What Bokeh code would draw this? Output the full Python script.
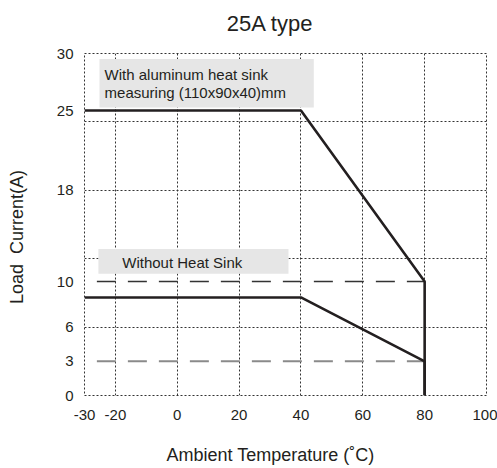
from bokeh.plotting import figure
from bokeh.models import Range1d, FixedTicker, Label, BoxAnnotation, LinearAxis
from bokeh.embed import file_html
from bokeh.resources import INLINE

# ---- data ----
temp = [-30, 40, 80, 80]
with_sink = [25, 25, 10, 0]
without_sink = [8.6, 8.6, 3, 0]
ref_temp = [-26, 80]
ref_with = [10, 10]
ref_without = [3, 3]
x_ticks = [-30, -20, 0, 20, 40, 60, 80, 100]
x_tick_labels = {-30: "-30", -20: "-20"}
y_ticks = [0, 3, 6, 10, 18, 25, 30]
x_grid = [-20, 0, 20, 40, 60, 80]
y_grid = [6, 12, 18, 24]

FONT = "Liberation Sans"
TXT = "#231f20"
NB = "\u00a0"

p = figure(width=497, height=468, output_backend="svg", toolbar_location=None,
           x_range=Range1d(-30, 100), y_range=Range1d(0, 30), title=None)
p.min_border_left = 84
p.min_border_right = 11
p.min_border_top = 53
p.min_border_bottom = 73
p.background_fill_color = "white"
p.border_fill_color = "white"
p.outline_line_color = "#333333"
p.outline_line_dash = "2 2"
p.outline_line_width = 1

bottom_axis = p.below[0]
left_axis = p.left[0]

# title drawn as the label of an empty axis above the frame
top_axis = LinearAxis(ticker=FixedTicker(ticks=[]))
p.add_layout(top_axis, "above")

for ax in (bottom_axis, left_axis, top_axis):
    ax.axis_line_color = None
    ax.major_tick_line_color = None
    ax.minor_tick_line_color = None
    ax.major_tick_out = 0
    ax.major_tick_in = 0
    ax.minor_tick_out = 0
    ax.minor_tick_in = 0
    ax.major_label_text_font = FONT
    ax.major_label_text_font_size = "15px"
    ax.major_label_text_color = TXT
    ax.major_label_standoff = 11
    ax.axis_label_text_font = FONT
    ax.axis_label_text_font_style = "normal"
    ax.axis_label_text_color = TXT
    ax.axis_label_text_font_size = "18px"

bottom_axis.major_label_standoff = 14
bottom_axis.ticker = FixedTicker(ticks=x_ticks)
bottom_axis.major_label_overrides = x_tick_labels
bottom_axis.axis_label = "Ambient Temperature (˚C)" + NB * 6
bottom_axis.axis_label_standoff = 22

left_axis.ticker = FixedTicker(ticks=y_ticks)
left_axis.axis_label = "Load" + NB + " Current(A)" + NB * 5
left_axis.axis_label_standoff = 27

top_axis.axis_label = "25A type" + NB * 5
top_axis.axis_label_text_font_size = "22px"
top_axis.axis_label_standoff = 18

p.xgrid[0].ticker = FixedTicker(ticks=x_grid)
p.ygrid[0].ticker = FixedTicker(ticks=y_grid)
for g in (p.xgrid[0], p.ygrid[0]):
    g.grid_line_color = "#333333"
    g.grid_line_dash = "2 2"
    g.grid_line_width = 1

# reference dashed lines
p.line(ref_temp, ref_with, line_color="#333333", line_width=1.3, line_dash="19 12")
p.line(ref_temp, ref_without, line_color="#8a8a8a", line_width=2, line_dash="19 12")

# derating curves
p.line(temp, with_sink, line_color="#231f20", line_width=2.6)
p.line(temp, without_sink, line_color="#231f20", line_width=2.6)

# text boxes
p.add_layout(BoxAnnotation(left=-25.15, right=44.15, bottom=25.27, top=29.51,
                           fill_color="#e6e6e6", fill_alpha=1, line_color=None))
p.add_layout(BoxAnnotation(left=-25.5, right=35.97, bottom=10.67, top=12.86,
                           fill_color="#e6e6e6", fill_alpha=1, line_color=None))

def lab(x, y, text, size):
    p.add_layout(Label(x=x, y=y, text=text, text_font=FONT, text_font_size=size,
                       text_color=TXT, text_align="left", text_baseline="middle"))

lab(-23.5, 28.13, "With aluminum heat sink", "15px")
lab(-23.5, 26.58, "measuring (110x90x40)mm", "15px")
lab(-17.8, 11.68, "Without Heat Sink", "15px")

open("out.html", "w").write(file_html(p, INLINE))
